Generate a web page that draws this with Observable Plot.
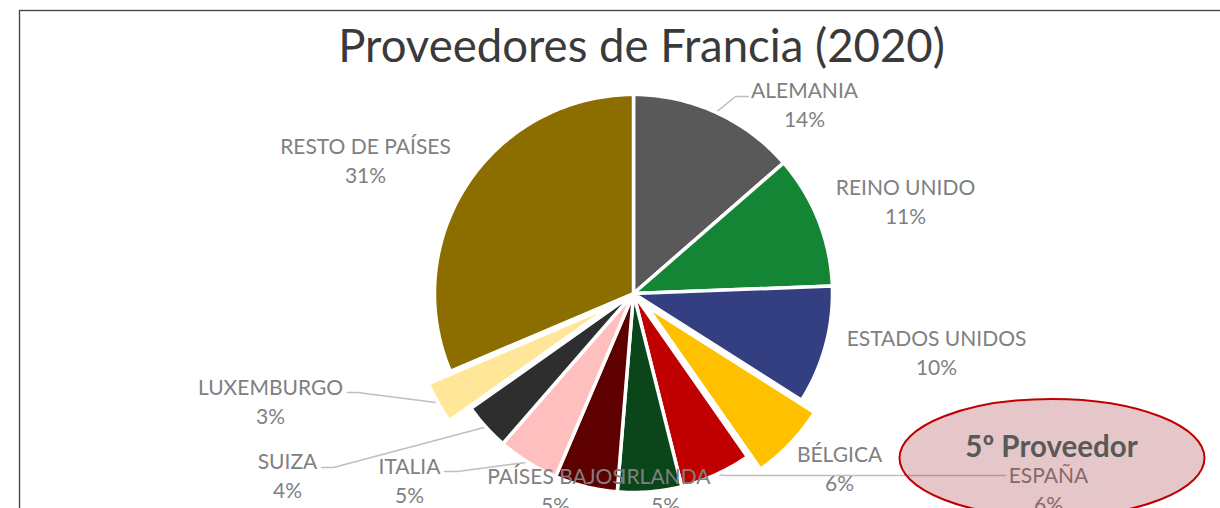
<!DOCTYPE html>
<html>
<head>
<meta charset="utf-8">
<script src="https://cdn.jsdelivr.net/npm/d3@7"></script>
<script src="https://cdn.jsdelivr.net/npm/@observablehq/plot@0.6"></script>
<style>
  html, body { margin: 0; padding: 0; background: #fff; }
  #chart svg { display: block; }
</style>
</head>
<body>
<div id="chart"></div>
<script>
// ---------- data ----------
const title = "Proveedores de Francia (2020)";
const categories = ["ALEMANIA", "REINO UNIDO", "ESTADOS UNIDOS", "BÉLGICA", "ESPAÑA", "IRLANDA",
                    "PAÍSES BAJOS", "ITALIA", "SUIZA", "LUXEMBURGO", "RESTO DE PAÍSES"];
const shares = [13.6, 10.8, 9.6, 6.3, 5.8, 5.2, 5.1, 5.0, 3.8, 3.4, 31.4];
const colors = ["#595959", "#138535", "#333F80", "#FFC000", "#C00000", "#0A461A",
                "#5F0000", "#FFBFBF", "#2E2E2E", "#FFE699", "#8C6D00"];
const callout = "5º Proveedor";

// ---------- layout (pixels) ----------
const W = 1220, H = 508, CX = 633, CY = 293, R = 199;
const explode = {"BÉLGICA": 18, "LUXEMBURGO": 25};
const labelAt = {
  "ALEMANIA": [804, 103], "REINO UNIDO": [905, 200], "ESTADOS UNIDOS": [936, 351],
  "BÉLGICA": [839, 467], "ESPAÑA": [1048, 488], "IRLANDA": [665, 489],
  "PAÍSES BAJOS": [555, 489], "ITALIA": [409, 479], "SUIZA": [287, 474],
  "LUXEMBURGO": [270, 400], "RESTO DE PAÍSES": [365, 159]
};
const leaderFrom = {
  "ALEMANIA": [[748, 96], [735, 96]],
  "LUXEMBURGO": [[347, 392], [357, 392]],
  "SUIZA": [[321, 467], [333, 467]],
  "ITALIA": [[444, 471], [457, 471]],
  "ESPAÑA": [[1005, 475], [725, 475]]
};
const ellipse = {cx: 1052, cy: 458, rx: 152.5, ry: 59};
const toX = px => px - CX, toY = py => CY - py;

// ---------- geometry ----------
const arcs = d3.pie().sort(null).value(d => d)(shares);
const slices = [];
const midPoint = {};
arcs.forEach((a, i) => {
  const name = categories[i];
  const mid = (a.startAngle + a.endAngle) / 2;
  const e = explode[name] || 0;
  const ox = e * Math.sin(mid), oy = e * Math.cos(mid);
  midPoint[name] = [ox + R * Math.sin(mid), oy + R * Math.cos(mid)];
  slices.push({name, x: ox, y: oy});
  const n = Math.max(2, Math.ceil((a.endAngle - a.startAngle) / (Math.PI / 180)));
  for (let k = 0; k <= n; k++) {
    const t = a.startAngle + (a.endAngle - a.startAngle) * k / n;
    slices.push({name, x: ox + R * Math.sin(t), y: oy + R * Math.cos(t)});
  }
});

const labels = categories.map((name, i) => ({
  name,
  text: name + "\n" + Math.round(shares[i]) + "%",
  x: toX(labelAt[name][0]),
  y: toY(labelAt[name][1])
}));

const leaders = [];
Object.entries(leaderFrom).forEach(([name, pts]) => {
  pts.forEach(([px, py]) => leaders.push({name, x: toX(px), y: toY(py)}));
  leaders.push({name, x: midPoint[name][0], y: midPoint[name][1]});
});

function ellipseMark(index, scales) {
  const sx = scales && scales.x ? scales.x : (v => v + CX);
  const sy = scales && scales.y ? scales.y : (v => CY - v);
  return d3.create("svg:ellipse")
    .attr("cx", sx(toX(ellipse.cx)))
    .attr("cy", sy(toY(ellipse.cy)))
    .attr("rx", ellipse.rx)
    .attr("ry", ellipse.ry)
    .attr("fill", "rgba(160,40,45,0.26)")
    .attr("stroke", "#C00000")
    .attr("stroke-width", 2)
    .node();
}

const plot = Plot.plot({
  width: W, height: H, margin: 0,
  x: {domain: [-CX, W - CX], axis: null},
  y: {domain: [CY - H, CY], axis: null},
  color: {domain: categories, range: colors},
  style: {fontFamily: "Lato, 'Open Sans', sans-serif", background: "white"},
  marks: [
    Plot.frame({stroke: "#404040", strokeWidth: 1.3, insetLeft: 19, insetTop: 10, insetRight: -10, insetBottom: -10}),
    Plot.line(leaders, {x: "x", y: "y", z: "name", stroke: "#BFBFBF", strokeWidth: 1.5}),
    Plot.line(slices, {x: "x", y: "y", z: "name", fill: "name", stroke: "white",
                       strokeWidth: 3.5, strokeLinejoin: "round", curve: "linear-closed"}),
    Plot.text(labels, {x: "x", y: "y", text: "text", fill: "#808080", fontSize: 21, lineHeight: 29 / 21}),
    ellipseMark,
    Plot.text([callout], {x: toX(1051), y: toY(447), text: d => d, fontWeight: "bold", fontSize: 29.5, fill: "#595959"}),
    Plot.text([title], {x: toX(641), y: toY(47), text: d => d, fontSize: 45.5, fill: "#3a3a3a"})
  ]
});
document.getElementById("chart").appendChild(plot);
</script>
</body>
</html>
